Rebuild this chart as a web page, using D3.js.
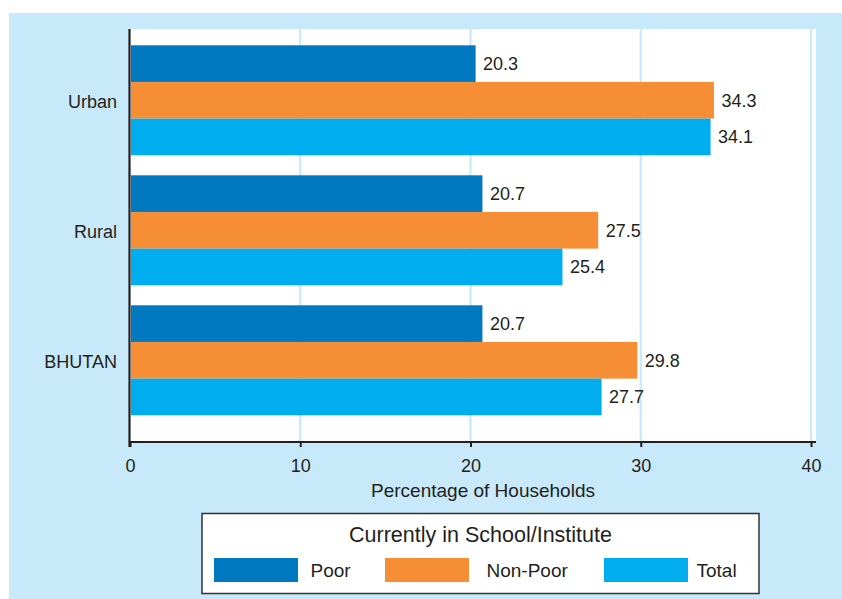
<!DOCTYPE html>
<html>
<head>
<meta charset="utf-8">
<script src="https://cdn.jsdelivr.net/npm/d3@7/dist/d3.min.js"></script>
<style>
  html, body { margin: 0; padding: 0; background: #ffffff; }
  svg { display: block; font-family: "Liberation Sans", Arial, Helvetica, sans-serif; }
</style>
</head>
<body>
<svg id="chart" width="842" height="599"></svg>
<script>
// Share of households with members currently in school/institute
const categories = ["Urban", "Rural", "BHUTAN"];
const seriesNames = ["Poor", "Non-Poor", "Total"];
const poor    = [20.3, 20.7, 20.7];
const nonPoor = [34.3, 27.5, 29.8];
const total   = [34.1, 25.4, 27.7];
const xTicks  = [0, 10, 20, 30, 40];
const legendTitle = "Currently in School/Institute";
const xAxisTitle  = "Percentage of Households";

const seriesValues = [poor, nonPoor, total];
const colors = ["#0079c1", "#f58e34", "#00adef"];
const ink = "#231f20";
const bgBlue = "#c7e9f9";

const svg = d3.select("#chart");

// panel background
svg.append("rect").attr("x", 9).attr("y", 13).attr("width", 833).attr("height", 586).attr("fill", bgBlue);

// plot frame
const plot = { left: 130, right: 816, top: 29, bottom: 442 };
svg.append("rect")
  .attr("x", plot.left).attr("y", plot.top)
  .attr("width", plot.right - plot.left).attr("height", plot.bottom - plot.top)
  .attr("fill", "#ffffff");

const x = d3.scaleLinear().domain([0, 40]).range([130, 811]);

const y0 = d3.scaleBand().domain(categories)
  .range([35.3, 425.3]).paddingInner(20 / 130).paddingOuter(10 / 130);
const y1 = d3.scaleBand().domain(seriesNames).range([0, y0.bandwidth()]).padding(0);

// vertical gridlines
svg.append("g").selectAll("line")
  .data(xTicks.filter(t => t > 0))
  .join("line")
  .attr("x1", d => x(d)).attr("x2", d => x(d))
  .attr("y1", plot.top).attr("y2", plot.bottom)
  .attr("stroke", bgBlue).attr("stroke-width", 2.2);

// bars
const rows = [];
categories.forEach((c, i) => {
  seriesNames.forEach((s, j) => rows.push({ cat: c, series: s, idx: j, value: seriesValues[j][i] }));
});

const barG = svg.append("g");
barG.selectAll("rect")
  .data(rows)
  .join("rect")
  .attr("x", x(0) + 1)
  .attr("y", d => y0(d.cat) + y1(d.series))
  .attr("width", d => x(d.value) - x(0) - 1)
  .attr("height", y1.bandwidth())
  .attr("fill", d => colors[d.idx]);

// value labels
barG.selectAll("text")
  .data(rows)
  .join("text")
  .attr("x", d => x(d.value) + 7.5)
  .attr("y", d => y0(d.cat) + y1(d.series) + y1.bandwidth() / 2)
  .attr("dy", "0.35em")
  .attr("font-size", 18)
  .attr("fill", ink)
  .text(d => d.value.toFixed(1));

// category labels
svg.append("g").selectAll("text")
  .data(categories)
  .join("text")
  .attr("x", 117)
  .attr("y", d => y0(d) + y0.bandwidth() / 2 + 1)
  .attr("dy", "0.35em")
  .attr("text-anchor", "end")
  .attr("font-size", 18)
  .attr("fill", ink)
  .text(d => d);

// axes
const xAxis = d3.axisBottom(x).tickValues(xTicks).tickSize(5).tickPadding(12).tickFormat(d3.format("d"));
const gx = svg.append("g").attr("transform", `translate(0,${plot.bottom})`).call(xAxis);
gx.select(".domain").remove();
gx.selectAll(".tick line").attr("stroke", ink).attr("stroke-width", 2);
gx.selectAll(".tick text").attr("font-size", 18).attr("fill", ink)
  .attr("font-family", "Liberation Sans, Arial, sans-serif");

svg.append("line")
  .attr("x1", plot.left - 1).attr("x2", plot.right)
  .attr("y1", plot.bottom).attr("y2", plot.bottom)
  .attr("stroke", ink).attr("stroke-width", 2.2);
svg.append("line")
  .attr("x1", plot.left - 0.5).attr("x2", plot.left - 0.5)
  .attr("y1", plot.top).attr("y2", plot.bottom + 5)
  .attr("stroke", ink).attr("stroke-width", 2.2);

svg.append("text")
  .attr("x", 483).attr("y", 497)
  .attr("text-anchor", "middle")
  .attr("font-size", 19)
  .attr("fill", ink)
  .text(xAxisTitle);

// legend
const legend = svg.append("g");
legend.append("rect")
  .attr("x", 202).attr("y", 513.5).attr("width", 557).attr("height", 80)
  .attr("fill", "#ffffff").attr("stroke", "#333333").attr("stroke-width", 1.5);
legend.append("text")
  .attr("x", 480.5).attr("y", 542)
  .attr("text-anchor", "middle")
  .attr("font-size", 21.5)
  .attr("fill", ink)
  .text(legendTitle);

const legendSlots = [
  { swatchX: 214, textX: 310.5 },
  { swatchX: 385, textX: 486.5 },
  { swatchX: 604, textX: 696.5 }
];
const items = legend.selectAll("g.item")
  .data(seriesNames)
  .join("g").attr("class", "item");
items.append("rect")
  .attr("x", (d, i) => legendSlots[i].swatchX)
  .attr("y", 558).attr("width", 84).attr("height", 24)
  .attr("fill", (d, i) => colors[i]);
items.append("text")
  .attr("x", (d, i) => legendSlots[i].textX)
  .attr("y", 570)
  .attr("dy", "0.35em")
  .attr("font-size", 19)
  .attr("fill", ink)
  .text(d => d);
</script>
</body>
</html>
